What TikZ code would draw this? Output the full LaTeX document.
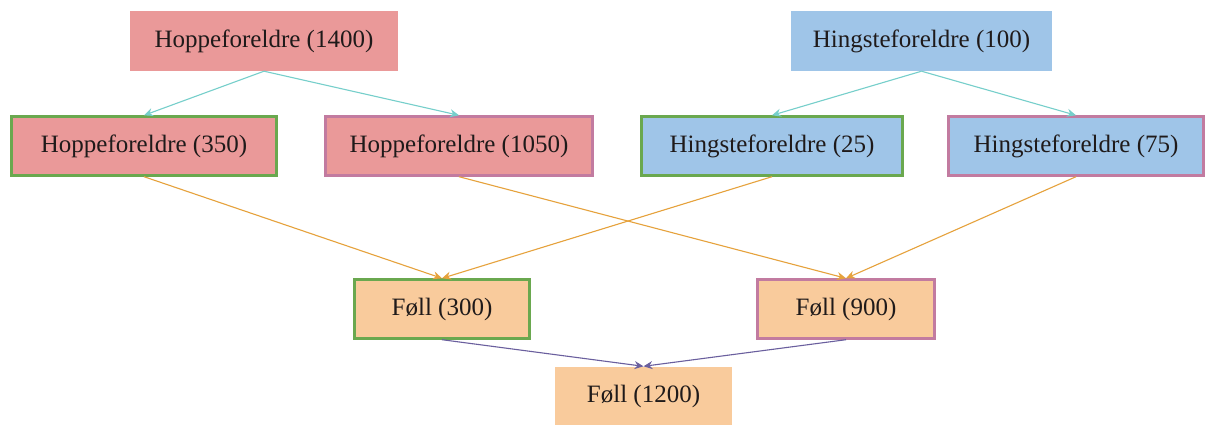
\documentclass[tikz,border=0pt]{standalone}
\usepackage{fontspec}
\setmainfont{Liberation Serif}
\usetikzlibrary{arrows.meta}
\definecolor{mare}{HTML}{EA9999}
\definecolor{stallion}{HTML}{9FC5E8}
\definecolor{foal}{HTML}{F9CB9C}
\definecolor{greenedge}{HTML}{6AA84F}
\definecolor{pinkedge}{HTML}{C27BA0}
\definecolor{tealline}{HTML}{76CFCB}
\definecolor{orangeline}{HTML}{E6A23C}
\definecolor{purpleline}{HTML}{6A5F9E}
\definecolor{ink}{HTML}{1F1A1A}
\tikzset{
  box/.style={rectangle, minimum height=60pt, inner sep=0pt, text=ink,
    font=\fontsize{25}{29}\selectfont},
  greenbox/.style={box, draw=greenedge, line width=2.4pt},
  pinkbox/.style={box, draw=pinkedge, line width=2.4pt},
  link/.style={line width=1.1pt, -{Stealth[length=9pt,width=8pt]}},
}
\begin{document}
\begin{tikzpicture}[x=1pt,y=-1pt]
\useasboundingbox[fill=white] (0,0) rectangle (1206,425);
% parent generation
\node[box, fill=mare, minimum width=268pt] (hp) at (264,41) {Hoppeforeldre (1400)};
\node[box, fill=stallion, minimum width=261pt] (hs) at (921.5,41) {Hingsteforeldre (100)};
% split parents
\node[greenbox, fill=mare, minimum width=265pt, minimum height=59pt] (h350) at (144,146) {Hoppeforeldre (350)};
\node[pinkbox, fill=mare, minimum width=267pt, minimum height=59pt] (h1050) at (459,146) {Hoppeforeldre (1050)};
\node[greenbox, fill=stallion, minimum width=261pt, minimum height=59pt] (s25) at (772,146) {Hingsteforeldre (25)};
\node[pinkbox, fill=stallion, minimum width=255pt, minimum height=59pt] (s75) at (1076,146) {Hingsteforeldre (75)};
% foals
\node[greenbox, fill=foal, minimum width=175pt, minimum height=59pt] (f300) at (442,309) {Føll (300)};
\node[pinkbox, fill=foal, minimum width=177pt, minimum height=59pt] (f900) at (846,309) {Føll (900)};
\node[box, fill=foal, minimum width=177pt, minimum height=59pt] (f1200) at (643.5,396) {Føll (1200)};
% connectors
\draw[link, tealline] (hp.south) -- (h350.north);
\draw[link, tealline] (hp.south) -- (h1050.north);
\draw[link, tealline] (hs.south) -- (s25.north);
\draw[link, tealline] (hs.south) -- (s75.north);
\draw[link, orangeline] (h350.south) -- (f300.north);
\draw[link, orangeline] (s25.south) -- (f300.north);
\draw[link, orangeline] (h1050.south) -- (f900.north);
\draw[link, orangeline] (s75.south) -- (f900.north);
\draw[link, purpleline] (f300.south) -- (f1200.north);
\draw[link, purpleline] (f900.south) -- (f1200.north);
\end{tikzpicture}
\end{document}
